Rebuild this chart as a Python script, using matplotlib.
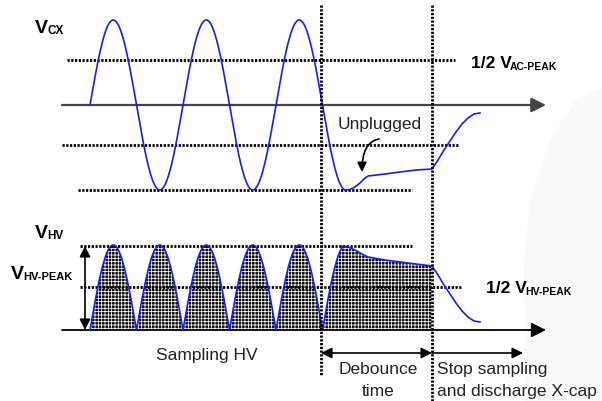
import numpy as np
import matplotlib
matplotlib.use("Agg")
import matplotlib.pyplot as plt
from matplotlib.patches import Polygon

plt.rcParams["font.family"] = ["Liberation Sans", "DejaVu Sans"]
plt.rcParams["hatch.linewidth"] = 0.55

# waveform values (pixel units of the diagram)
ac_start = 90        # first zero crossing
ac_period = 93       # one mains cycle
ac_amp = 85          # peak height
vcx_axis = 105       # V_CX zero line
hv_axis = 330        # V_HV zero line

# V_CX after unplug (x, y)
vcx_tail_x = [345, 350, 355, 360, 364, 368, 385, 400, 416, 432, 438, 444, 450, 456, 462, 468, 474, 480]
vcx_tail_y = [190, 189.5, 187, 183, 179, 176, 174, 172, 170, 169, 160, 150, 141, 132, 124, 118, 114, 113]

# V_HV after unplug (x, y)
hv_tail_x = [342, 348, 355, 362, 368, 385, 400, 416, 432, 438, 444, 450, 456, 462, 468, 474, 480]
hv_tail_y = [246, 247, 250, 254, 257, 260, 262, 264, 266, 275, 285, 294, 303, 311, 317, 321, 322]

unplug_x = 321
stop_x = 432

fig = plt.figure(figsize=(6.02, 4.01), dpi=100)
ax = fig.add_axes([0, 0, 1, 1])
ax.set_xlim(0, 602)
ax.set_ylim(401, 0)
ax.axis("off")

# faint background shape
ax.add_patch(Polygon([(525, 401), (524, 260), (530, 200), (550, 140), (575, 100),
                      (602, 88), (602, 401)], closed=True, fc="#f9f9f9", ec="none", zorder=0))

dot = dict(color="black", lw=2.0, ls=(0, (0.8, 0.55)))
ink = "#444444"

# ---- top: V_CX ----
t = np.linspace(ac_start, ac_start + 2.75 * ac_period, 400)
vcx = vcx_axis - ac_amp * np.sin(2 * np.pi * (t - ac_start) / ac_period)
ax.plot(t, vcx, color="#1a1aff", lw=1.2, zorder=4)
ax.plot(vcx_tail_x, vcx_tail_y, color="#1a1aff", lw=1.2, zorder=4)

ax.plot([67, 455], [60, 60], **dot)
ax.plot([62, 458], [145, 145], **dot)
ax.plot([78, 412], [190, 190], **dot)
ax.annotate("", xy=(546, vcx_axis), xytext=(62, vcx_axis),
            arrowprops=dict(arrowstyle="-|>", mutation_scale=22, color=ink, lw=1.6,
                            shrinkA=0, shrinkB=0), zorder=3)

ax.text(35, 33, "V", fontsize=14, fontweight="bold", va="baseline")
ax.text(47.5, 34, "CX", fontsize=8.5, fontweight="bold", va="baseline")
ax.text(471, 68, "1/2 V", fontsize=12.5, fontweight="bold", va="baseline")
ax.text(510, 70, "AC-PEAK", fontsize=7.5, fontweight="bold", va="baseline")
ax.text(380, 129, "Unplugged", fontsize=12.5, color="#222222", ha="center", va="baseline")
ax.annotate("", xy=(362, 172), xytext=(379, 139),
            arrowprops=dict(arrowstyle="-|>", mutation_scale=14, color="black", lw=1.2,
                            connectionstyle="angle3,angleA=190,angleB=90",
                            shrinkA=0, shrinkB=0))

# ---- bottom: V_HV ----
th = np.linspace(ac_start, ac_start + 2.75 * ac_period, 600)
hv = hv_axis - ac_amp * np.abs(np.sin(2 * np.pi * (th - ac_start) / ac_period))
hx = np.concatenate([th[th < hv_tail_x[0]], hv_tail_x])
hy = np.concatenate([hv[th < hv_tail_x[0]], hv_tail_y])
mask = hx <= stop_x
ax.fill_between(hx[mask], hy[mask], hv_axis, facecolor="#0a0a0a", edgecolor="white",
                hatch="+++++", lw=0, zorder=2)
ax.plot(hx, hy, color="#1a1aff", lw=1.2, zorder=4)

ax.plot([80, 412], [246, 246], **dot, zorder=3)
ax.plot([80, 462], [287, 287], **dot, zorder=3)
ax.annotate("", xy=(546, hv_axis), xytext=(62, hv_axis),
            arrowprops=dict(arrowstyle="-|>", mutation_scale=22, color="black", lw=1.3,
                            shrinkA=0, shrinkB=0), zorder=3)
ax.annotate("", xy=(85, 246), xytext=(85, hv_axis),
            arrowprops=dict(arrowstyle="<|-|>", mutation_scale=16, color="black", lw=1.2,
                            shrinkA=0, shrinkB=0))

ax.text(35, 238, "V", fontsize=14, fontweight="bold", va="baseline")
ax.text(47.5, 239, "HV", fontsize=8.5, fontweight="bold", va="baseline")
ax.text(11, 279, "V", fontsize=14, fontweight="bold", va="baseline")
ax.text(23.5, 280, "HV-PEAK", fontsize=8, fontweight="bold", va="baseline")
ax.text(486, 293, "1/2 V", fontsize=12.5, fontweight="bold", va="baseline")
ax.text(525, 295, "HV-PEAK", fontsize=7.5, fontweight="bold", va="baseline")

# timing markers
ax.plot([unplug_x, unplug_x], [5, 375], **dot, zorder=5)
ax.plot([stop_x, stop_x], [5, 401], **dot, zorder=5)
ax.annotate("", xy=(stop_x, 353), xytext=(unplug_x, 353),
            arrowprops=dict(arrowstyle="<|-|>", mutation_scale=16, color="black", lw=1.2,
                            shrinkA=0, shrinkB=0))
ax.annotate("", xy=(523, 353), xytext=(stop_x, 353),
            arrowprops=dict(arrowstyle="-|>", mutation_scale=16, color="black", lw=1.2,
                            shrinkA=0, shrinkB=0))

ax.text(207, 360, "Sampling HV", fontsize=12.5, color="#222222", ha="center", va="baseline")
ax.text(378, 374, "Debounce", fontsize=12.5, color="#222222", ha="center", va="baseline")
ax.text(378, 396, "time", fontsize=12.5, color="#222222", ha="center", va="baseline")
ax.text(437, 374, "Stop sampling", fontsize=12.5, color="#222222", va="baseline")
ax.text(437, 396, "and discharge X-cap", fontsize=12.5, color="#222222", va="baseline")

fig.savefig("out.png", dpi=100)
